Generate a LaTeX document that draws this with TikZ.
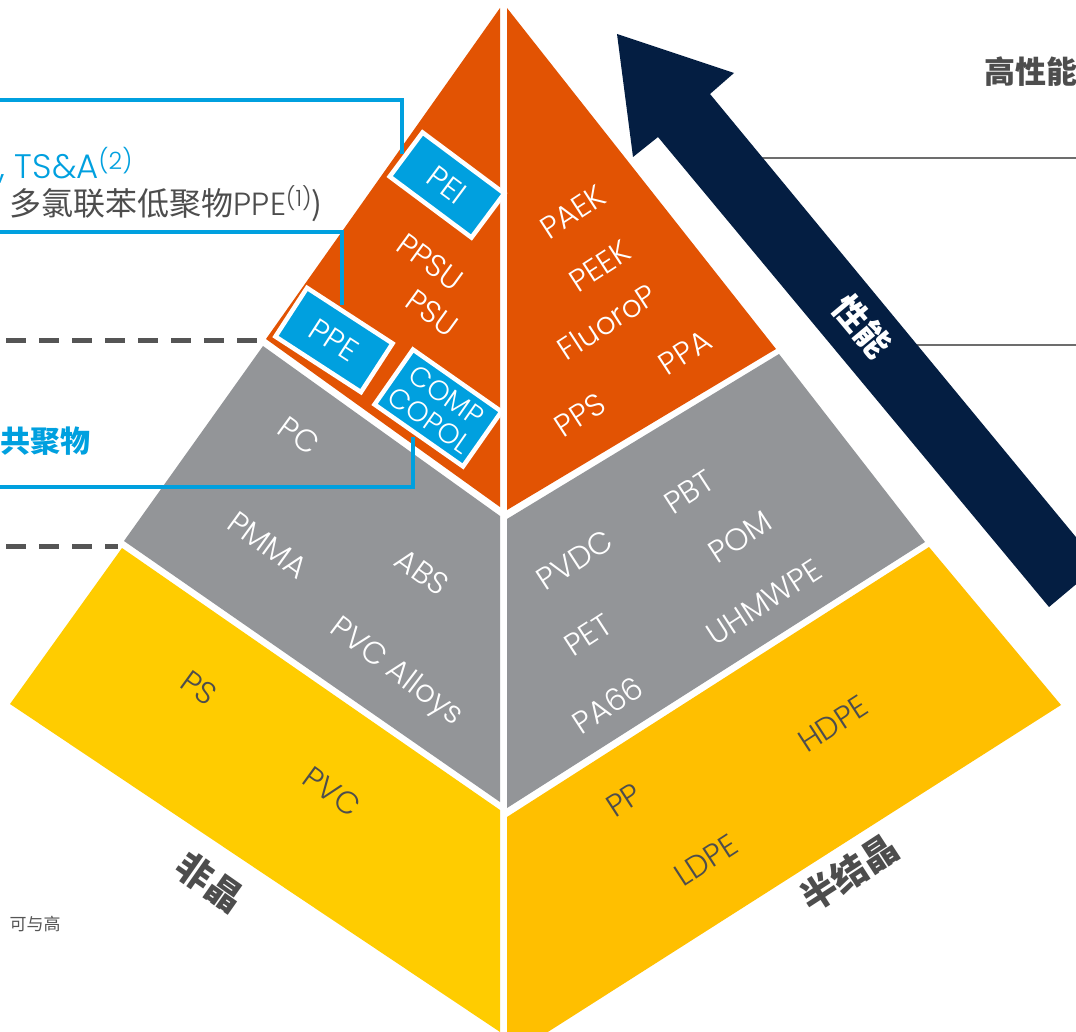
\documentclass[tikz,border=0pt]{standalone}
\usepackage{fontspec}
\IfFontExistsTF{Poppins Light}{\setmainfont{Poppins Light}}{\setmainfont{Poppins}}
\newfontfamily\cjk{Noto Sans CJK SC}
\usetikzlibrary{calc}
\definecolor{hiorange}{HTML}{E25303}
\definecolor{midgray}{HTML}{939598}
\definecolor{lowyellowL}{HTML}{FFCC00}
\definecolor{lowyellowR}{HTML}{FFBF00}
\definecolor{navy}{HTML}{041E42}
\definecolor{tagblue}{HTML}{00A0DF}
\definecolor{txtgray}{HTML}{4D4D4D}
\definecolor{dashgray}{HTML}{555555}
\definecolor{rulegray}{HTML}{6D6D6D}

\begin{document}
\begin{tikzpicture}[x=1pt,y=-1pt,
	face/.style={text=white,inner sep=0,font=\fontsize{31}{33}\selectfont},
	base/.style={face,text=txtgray},
	tag/.style={draw=white,line width=4.5pt,fill=tagblue,text=white,inner sep=0,font=\fontsize{31}{33}\selectfont},
	callout/.style={draw=tagblue,line width=4pt,shorten >=3pt},
	level/.style={draw=dashgray,line width=5pt,dash pattern=on 20pt off 13pt},
	rule/.style={draw=rulegray,line width=1.3pt},
	side/.style={text=txtgray,inner sep=0,font=\cjk\bfseries\fontsize{36}{38}\selectfont}]
	\useasboundingbox (0,0) rectangle (1076,1032);
	\fill[white] (0,0) rectangle (1076,1032);
	% left face: amorphous
	\fill[hiorange] (500,8) -- (266,339) -- (500,507) -- cycle;
	\fill[midgray] (263,346) -- (124,541) -- (500,802) -- (500,516) -- cycle;
	\fill[lowyellowL] (122,548) -- (10,704) -- (500,1032) -- (500,810) -- cycle;
	% right face: semi-crystalline
	\fill[hiorange] (507,8) -- (776,349) -- (507,510) -- cycle;
	\fill[midgray] (779,354) -- (925,542) -- (507,808) -- (507,519) -- cycle;
	\fill[lowyellowR] (929,547) -- (1061,705) -- (507,1058) -- (507,817) -- cycle;
	% rules and arrow
	\draw[rule] (740,158) -- (1076,158);
	\draw[rule] (900,345) -- (1076,345);
	\fill[navy] (617,34) -- (734,73) -- (710,94) -- (1099,565) -- (1049,607) -- (658,137) -- (633,157) -- cycle;
	\node[text=white,inner sep=0,rotate=-50,font=\cjk\bfseries\fontsize{34}{36}\selectfont] (perf) at (862,326) {性能};
	% tags on the left face
	\node[tag,rotate=-36.7,minimum width=102,minimum height=55] (pei) at (447,185) {PEI};
	\node[tag,rotate=-33,minimum width=102,minimum height=58] (ppe) at (334,340) {PPE};
	\node[tag,rotate=-35,minimum width=108,minimum height=67,align=center,font=\fontsize{28}{30}\selectfont] (comp) at (438,408) {COMP\\COPOL};
	% callouts
	\coordinate (c1) at (-5,100);
	\coordinate (c2) at (-5,232);
	\coordinate (c3) at (-5,487);
	\draw[callout] (c1) -| ($(pei.south west)!0.43!(pei.north west)$);
	\draw[callout] (c2) -| ($(ppe.north west)!0.4!(ppe.north east)$);
	\draw[callout] (c3) -| ($(comp.south west)!0.45!(comp.south east)$);
	\node[anchor=east,inner sep=0,text=tagblue,font=\fontsize{34}{36}\selectfont] (tsa) at (133,165) {, TS\&A\textsuperscript{(2)}};
	\node[anchor=east,inner sep=0,text=txtgray,font=\cjk\fontsize{32}{34}\selectfont] (pcb) at (323,204) {多氯联苯低聚物{\rmfamily PPE}\textsuperscript{\rmfamily(1)})};
	\node[anchor=east,inner sep=0,text=tagblue,font=\cjk\bfseries\fontsize{30}{32}\selectfont] (copo) at (91,441) {共聚物};
	% level marks
	\coordinate (m1) at (6,340);
	\coordinate (m2) at (262,340);
	\coordinate (m3) at (6,546);
	\coordinate (m4) at (118,546);
	\draw[level] (m1) -- (m2);
	\draw[level] (m3) -- (m4);
	% labels, left face
	\node[face,rotate=-36] (ppsu) at (430,262) {PPSU};
	\node[face,rotate=-36] (psu) at (432,313) {PSU};
	\node[face,rotate=-36] (pc) at (299,436) {PC};
	\node[face,rotate=-36] (pmma) at (268,545) {PMMA};
	\node[face,rotate=-36] (abs) at (422,572) {ABS};
	\node[face,rotate=-37] (pvca) at (396,673) {PVC Alloys};
	\node[base,rotate=-36] (ps) at (199,688) {PS};
	\node[base,rotate=-36] (pvc) at (332,792) {PVC};
	% labels, right face
	\node[face,rotate=33] (paek) at (573,212) {PAEK};
	\node[face,rotate=33] (peek) at (600,266) {PEEK};
	\node[face,rotate=33] (fluo) at (607,322) {FluoroP};
	\node[face,rotate=33] (ppa) at (685,352) {PPA};
	\node[face,rotate=33] (pps) at (580,415) {PPS};
	\node[face,rotate=33] (pbt) at (689,492) {PBT};
	\node[face,rotate=33] (pvdc) at (575,560) {PVDC};
	\node[face,rotate=33] (pom) at (740,537) {POM};
	\node[face,rotate=33] (pet) at (588,635) {PET};
	\node[face,rotate=33] (uhmw) at (764,602) {UHMWPE};
	\node[face,rotate=33] (pa66) at (608,705) {PA66};
	\node[base,rotate=33] (hdpe) at (833,724) {HDPE};
	\node[base,rotate=33] (pp) at (624,800) {PP};
	\node[base,rotate=33] (ldpe) at (706,860) {LDPE};
	% face titles
	\node[side,rotate=-35] (amor) at (210,882) {非晶};
	\node[side,rotate=33] (semi) at (849,873) {半结晶};
	\node[side,anchor=west,font=\cjk\bfseries\fontsize{31}{33}\selectfont] (hp) at (984,72) {高性能};
	\node[inner sep=0,text=dashgray,font=\cjk\fontsize{17}{19}\selectfont] (note) at (35,924) {可与高};
\end{tikzpicture}
\end{document}
